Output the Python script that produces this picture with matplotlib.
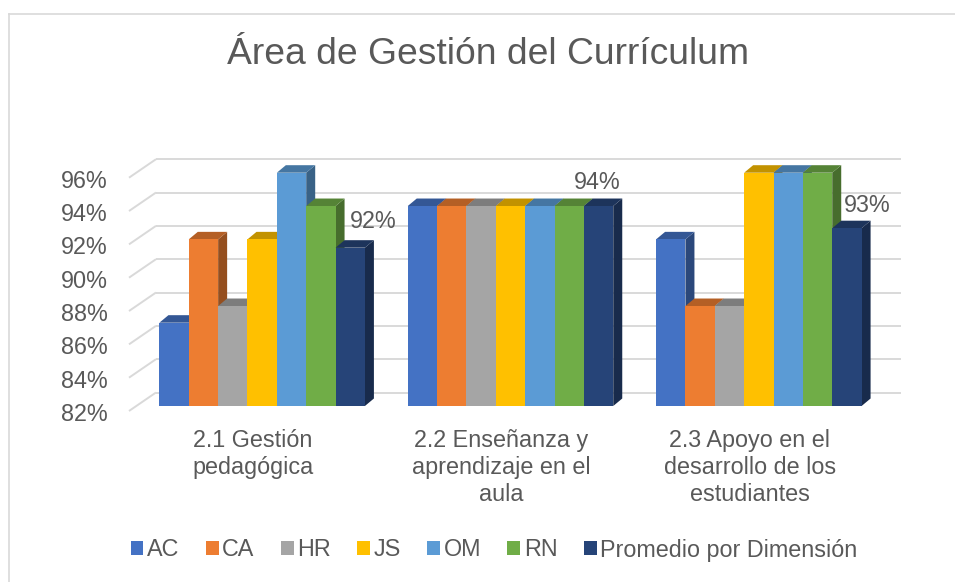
import matplotlib
matplotlib.use("Agg")
import matplotlib.pyplot as plt
from matplotlib.patches import Polygon, Patch
from matplotlib.transforms import ScaledTranslation
import matplotlib.colors as mcolors

# ---------------- data ----------------
categories = ["2.1 Gestión\npedagógica",
              "2.2 Enseñanza y\naprendizaje en el\naula",
              "2.3 Apoyo en el\ndesarrollo de los\nestudiantes"]
series_names = ["AC", "CA", "HR", "JS", "OM", "RN", "Promedio por Dimensión"]
AC = [87, 94, 92]
CA = [92, 94, 88]
HR = [88, 94, 88]
JS = [92, 94, 96]
OM = [96, 94, 96]
RN = [94, 94, 96]
promedio = [91.5, 94, 92.67]
promedio_labels = ["92%", "94%", "93%"]
y_ticks = [82, 84, 86, 88, 90, 92, 94, 96]
y_tick_labels = ["82%", "84%", "86%", "88%", "90%", "92%", "94%", "96%"]
title = "Área de Gestión del Currículum"

series = [AC, CA, HR, JS, OM, RN, promedio]
colors = ["#4472C4", "#ED7D31", "#A5A5A5", "#FFC000", "#5B9BD5", "#70AD47", "#264478"]

# ---------------- layout ----------------
W, H, DPI = 955, 582, 100
fig = plt.figure(figsize=(W / DPI, H / DPI), dpi=DPI)
fig.patch.set_facecolor("white")

ax_l, ax_r, ax_b, ax_t = 138, 883, 406, 172.7  # pixel frame of the bar front plane
ax = fig.add_axes([ax_l / W, (H - ax_b) / H, (ax_r - ax_l) / W, (ax_b - ax_t) / H])
ax.set_xlim(-0.5, 2.5)
ax.set_ylim(82, 96)
ax.axis("off")

PXX = (ax_r - ax_l) / 3.0        # pixels per category unit
PXY = (ax_b - ax_t) / 14.0       # pixels per percent unit

def pxoff(dx, dy):
    """offset transform in image pixels (dy positive downward)"""
    return ax.transData + ScaledTranslation(dx / DPI, -dy / DPI, fig.dpi_scale_trans)

TEXT = "#595959"
GRID = "#D9D9D9"
FONT = "Liberation Sans"
FS = 16.8

# depth geometry (pixels)
BACK = (18, -13.5)
FRONT_WALL = (-9, 5)
BAR_D = (9, -7.5)

# back wall gridlines + left wall diagonals
for v in y_ticks:
    ax.plot([-0.5, 2.5], [v, v], color=GRID, lw=1.4, transform=pxoff(*BACK),
            clip_on=False, zorder=1, solid_capstyle="butt")
    ax.plot([-0.5 + FRONT_WALL[0] / PXX, -0.5 + BACK[0] / PXX],
            [v - FRONT_WALL[1] / PXY, v - BACK[1] / PXY],
            color=GRID, lw=1.4, clip_on=False, zorder=1, solid_capstyle="butt")

# y tick labels
for v, lab in zip(y_ticks, y_tick_labels):
    ax.text(-0.5, v, lab, transform=pxoff(-30, 15), ha="right", va="baseline",
            fontsize=FS, color=TEXT, family=FONT, clip_on=False)

# bars
n = len(series)
group_w = 0.8275
bw = group_w / n
DX = BAR_D[0] / PXX
DY = -BAR_D[1] / PXY

def shade(c, f):
    r, g, b = mcolors.to_rgb(c)
    return (r * f, g * f, b * f)

z = 5
for ci in range(len(categories)):
    for si, (vals, col) in enumerate(zip(series, colors)):
        v = vals[ci]
        xl = ci - group_w / 2 + si * bw
        xr = xl + bw
        side = Polygon([(xr, 82), (xr + DX, 82 + DY), (xr + DX, v + DY), (xr, v)],
                       closed=True, facecolor=shade(col, 0.63), edgecolor="none",
                       zorder=z, clip_on=False)
        top = Polygon([(xl, v), (xr, v), (xr + DX, v + DY), (xl + DX, v + DY)],
                      closed=True, facecolor=shade(col, 0.76), edgecolor="none",
                      zorder=z + 1, clip_on=False)
        ax.add_patch(side)
        ax.add_patch(top)
        ax.bar(xl, v - 82, bottom=82, width=bw, align="edge", color=col,
               edgecolor="none", zorder=z + 2, clip_on=False)
        z += 3

# data labels for the average series
label_offsets = [(23, -26), (-1.5, -24), (20, -23)]
for ci, (v, lab, off) in enumerate(zip(promedio, promedio_labels, label_offsets)):
    xc = ci - group_w / 2 + (n - 0.5) * bw
    ax.text(xc, v, lab, transform=pxoff(*off), ha="center", va="center",
            fontsize=FS, color=TEXT, family=FONT, zorder=200, clip_on=False)

# category labels
for ci, lab in enumerate(categories):
    ax.text(ci, 82, lab, transform=pxoff(-9, 23), ha="center", va="top",
            fontsize=FS, color=TEXT, family=FONT, linespacing=1.22, clip_on=False)

# title
fig.text(488 / W, 1 - 64.4 / H, title, ha="center", va="baseline",
         fontsize=26.8, color=TEXT, family=FONT)

# legend
handles = [Patch(facecolor=c, edgecolor="none", label=s) for c, s in zip(colors, series_names)]
leg = fig.legend(handles=handles, loc="center", bbox_to_anchor=(494 / W, 1 - 550 / H),
                 ncol=7, frameon=False, handlelength=0.55, handleheight=0.55,
                 handletextpad=0.15, columnspacing=1.13, borderaxespad=0,
                 prop={"family": FONT, "size": FS})
for t in leg.get_texts():
    t.set_color(TEXT)

# chart border
fig.add_artist(plt.Line2D([8.5 / W, 8.5 / W], [0, 1 - 14 / H], transform=fig.transFigure,
                          color=GRID, lw=1.2))
fig.add_artist(plt.Line2D([8.5 / W, 1], [1 - 14 / H, 1 - 14 / H], transform=fig.transFigure,
                          color=GRID, lw=1.2))

fig.savefig("out.png", dpi=DPI)
